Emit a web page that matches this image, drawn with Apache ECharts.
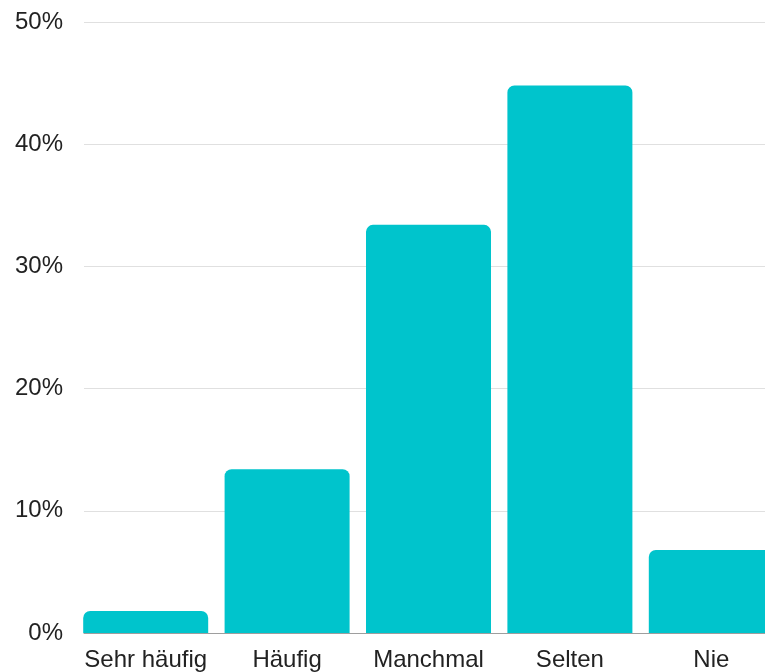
<!DOCTYPE html>
<html>
<head>
<meta charset="utf-8">
<script src="https://cdn.jsdelivr.net/npm/echarts@6/dist/echarts.min.js"></script>
<style>
html,body{margin:0;padding:0;background:#fff;overflow:hidden;width:765px;height:672px;}
#chart{width:782px;height:672px;}
</style>
</head>
<body>
<div id="chart"></div>
<script>
var categories = ['Sehr häufig', 'Häufig', 'Manchmal', 'Selten', 'Nie'];
var values = [1.8, 13.4, 33.4, 44.8, 6.8];
var yTicks = [0, 10, 20, 30, 40, 50];

var chart = echarts.init(document.getElementById('chart'), null, {renderer: 'canvas', width: 782, height: 672});
var font = 'Liberation Sans, Arial, sans-serif';
chart.setOption({
  animation: false,
  backgroundColor: '#ffffff',
  grid: [
    {left: 84, right: 0, top: 22, bottom: 39, containLabel: false},
    {left: 75, right: 0, top: 22, bottom: 39, containLabel: false}
  ],
  xAxis: [
    {gridIndex: 0, type: 'category', data: [''], axisLine: {show: true, lineStyle: {color: '#9e9e9e', width: 1}},
     axisTick: {show: false}, axisLabel: {show: false}, splitLine: {show: false}},
    {gridIndex: 1, type: 'category', data: categories, axisLine: {show: false}, axisTick: {show: false},
     axisLabel: {show: true, fontSize: 24, color: '#222', fontFamily: font, margin: 15, interval: 0}}
  ],
  yAxis: [
    {gridIndex: 0, type: 'value', min: yTicks[0], max: yTicks[yTicks.length - 1], interval: 10,
     axisLine: {show: false}, axisTick: {show: false},
     axisLabel: {formatter: '{value}%', fontSize: 24, color: '#222', fontFamily: font, margin: 21},
     splitLine: {show: true, lineStyle: {color: '#e0e0e0', width: 1}}},
    {gridIndex: 1, type: 'value', min: yTicks[0], max: yTicks[yTicks.length - 1], show: false}
  ],
  series: [{
    type: 'bar',
    xAxisIndex: 1,
    yAxisIndex: 1,
    data: values,
    barCategoryGap: '11.6%',
    itemStyle: {color: '#00c4cc', borderRadius: [7, 7, 0, 0]}
  }]
});
</script>
</body>
</html>
